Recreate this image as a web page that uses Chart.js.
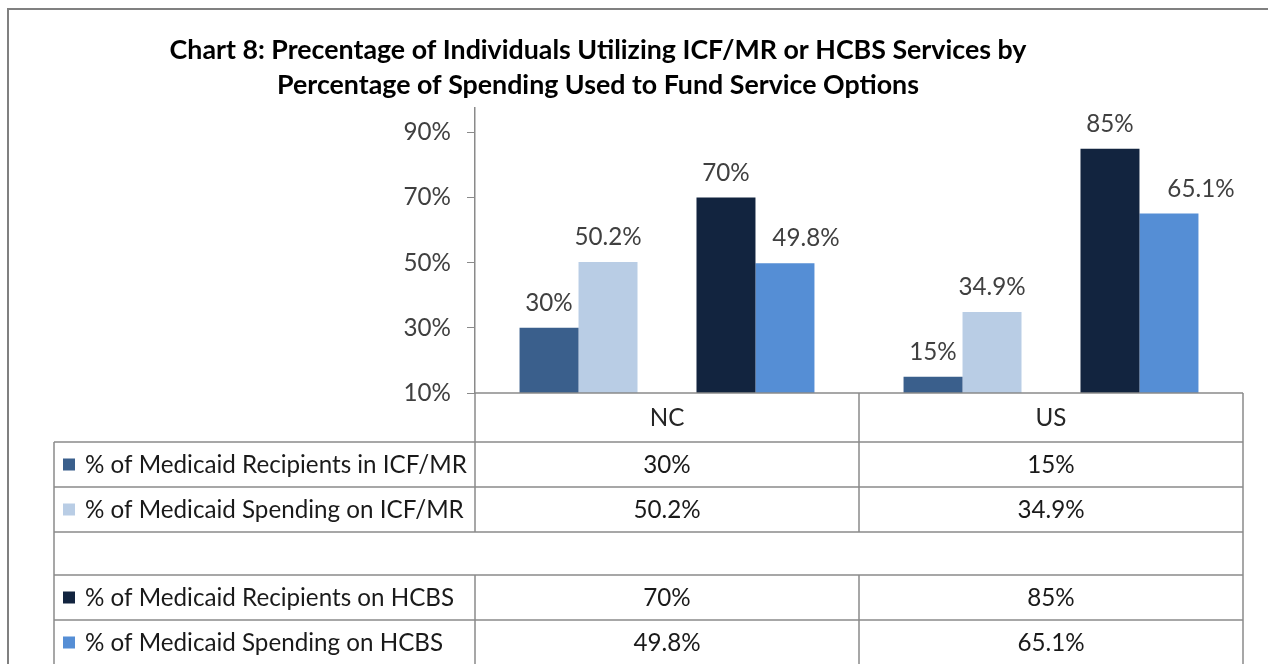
<!DOCTYPE html>
<html>
<head>
<meta charset="utf-8">
<title>Chart 8</title>
<script src="https://cdn.jsdelivr.net/npm/chart.js@4"></script>
<style>
  html, body { margin: 0; padding: 0; background: #fff; overflow: hidden; }
  #chart { display: block; }
</style>
</head>
<body>
<canvas id="chart" width="1268" height="664"></canvas>
<script>
// values
const categories = ['NC', 'US'];
const seriesNames = [
  '% of Medicaid Recipients in ICF/MR',
  '% of Medicaid Spending on ICF/MR',
  '',
  '% of Medicaid Recipients on HCBS',
  '% of Medicaid Spending on HCBS'
];
const icfRecipients = [30, 15];
const icfSpending = [50.2, 34.9];
const spacerRow = [null, null];
const hcbsRecipients = [70, 85];
const hcbsSpending = [49.8, 65.1];
const seriesColors = ['#3A5F8C', '#B9CDE5', 'rgba(0,0,0,0)', '#12243F', '#558ED5'];
const yTicks = [10, 30, 50, 70, 90];
const titleLines = [
  'Chart 8: Precentage of Individuals Utilizing ICF/MR or HCBS Services by',
  'Percentage of Spending Used to Fund Service Options'
];

const FAMILY = 'Lato, "Open Sans", sans-serif';
const GRID = '#8a8a8a';

// pick font sizes so the text spans about as wide as the original (Calibri)
function fitSize(text, weight, target) {
  const c = document.createElement('canvas').getContext('2d');
  c.font = `${weight} 100px ${FAMILY}`;
  return 100 * target / c.measureText(text).width;
}
const bodySize = fitSize(seriesNames[0], 'normal', 382);
const titleSize = fitSize(titleLines[0], 'bold', 857);

const fmt = v => v + '%';

const frameAndTitle = {
  id: 'frameAndTitle',
  beforeDraw(chart) {
    const ctx = chart.ctx;
    ctx.save();
    ctx.fillStyle = '#fff';
    ctx.fillRect(0, 0, chart.width, chart.height);
    ctx.strokeStyle = '#808080';
    ctx.lineWidth = 2;
    ctx.strokeRect(8, 9, 3000, 3000);
    ctx.fillStyle = '#000';
    ctx.font = `bold ${titleSize}px ${FAMILY}`;
    ctx.textAlign = 'center';
    ctx.textBaseline = 'middle';
    ctx.fillText(titleLines[0], 598, 50);
    ctx.fillText(titleLines[1], 598, 85);
    ctx.restore();
  }
};

// the last series' labels were nudged right in the original so they clear the dark bars
const labelNudge = { 4: [21, 32] };

const barLabels = {
  id: 'barLabels',
  afterDatasetsDraw(chart) {
    const ctx = chart.ctx;
    ctx.save();
    ctx.font = `${bodySize}px ${FAMILY}`;
    ctx.fillStyle = '#404040';
    ctx.textAlign = 'center';
    ctx.textBaseline = 'alphabetic';
    chart.data.datasets.forEach((ds, i) => {
      chart.getDatasetMeta(i).data.forEach((bar, j) => {
        const v = ds.data[j];
        if (v == null) return;
        const dx = labelNudge[i] ? labelNudge[i][j] : 0;
        ctx.fillText(fmt(v), bar.x + dx, bar.y - 17);
      });
    });
    ctx.restore();
  }
};

// data table under the plot, drawn from the same arrays
const dataTable = {
  id: 'dataTable',
  afterDraw(chart) {
    const ctx = chart.ctx;
    const area = chart.chartArea;
    const x = chart.scales.x;
    const left = 54;
    const right = area.right;
    const mid = (x.getPixelForValue(0) + x.getPixelForValue(1)) / 2;
    const rowH = [45, 45, 43, 45, 45];
    const top = area.bottom;
    const headBottom = top + 49;

    ctx.save();
    ctx.strokeStyle = GRID;
    ctx.lineWidth = 1.5;
    const line = (x1, y1, x2, y2) => {
      ctx.beginPath(); ctx.moveTo(x1, y1); ctx.lineTo(x2, y2); ctx.stroke();
    };

    // header row
    line(area.left, top, right, top);
    line(area.left, top, area.left, headBottom);
    line(mid, top, mid, headBottom);
    line(right, top, right, headBottom);
    ctx.font = `${bodySize}px ${FAMILY}`;
    ctx.fillStyle = '#262626';
    ctx.textAlign = 'center';
    ctx.textBaseline = 'middle';
    categories.forEach((c, j) => ctx.fillText(c, x.getPixelForValue(j), top + 25));

    let y = headBottom;
    chart.data.datasets.forEach((ds, i) => {
      const h = rowH[i];
      line(left, y, right, y);
      line(left, y, left, y + h);
      line(right, y, right, y + h);
      if (seriesNames[i]) {
        line(area.left, y, area.left, y + h);
        line(mid, y, mid, y + h);
        ctx.fillStyle = seriesColors[i];
        ctx.fillRect(63, y + h / 2 - 6, 12, 12);
        ctx.fillStyle = '#1a1a1a';
        ctx.textAlign = 'left';
        ctx.fillText(seriesNames[i], 85, y + h / 2 + 1);
        ctx.textAlign = 'center';
        ds.data.forEach((v, j) => {
          if (v != null) ctx.fillText(fmt(v), x.getPixelForValue(j), y + h / 2 + 1);
        });
      }
      y += h;
    });
    line(left, y, right, y);
    ctx.restore();
  }
};

const datasets = [icfRecipients, icfSpending, spacerRow, hcbsRecipients, hcbsSpending]
  .map((data, i) => ({
    label: seriesNames[i],
    data,
    backgroundColor: seriesColors[i],
    borderWidth: 0,
    categoryPercentage: 0.768,
    barPercentage: 1
  }));

new Chart(document.getElementById('chart'), {
  type: 'bar',
  data: { labels: categories, datasets },
  options: {
    responsive: false,
    animation: false,
    layout: { padding: { top: 108, right: 25, bottom: 271, left: 0 } },
    plugins: { legend: { display: false }, tooltip: { enabled: false }, title: { display: false } },
    scales: {
      x: { display: false },
      y: {
        min: 10,
        max: 97.5,
        afterBuildTicks: s => { s.ticks = yTicks.map(v => ({ value: v })); },
        afterFit: s => { s.width = 475; },
        ticks: {
          callback: v => fmt(v),
          font: { family: FAMILY, size: bodySize },
          color: '#404040',
          padding: 16
        },
        grid: { drawOnChartArea: false, drawTicks: true, tickLength: 8, color: GRID },
        border: { color: GRID, width: 1.5 }
      }
    }
  },
  plugins: [frameAndTitle, barLabels, dataTable]
});
</script>
</body>
</html>
